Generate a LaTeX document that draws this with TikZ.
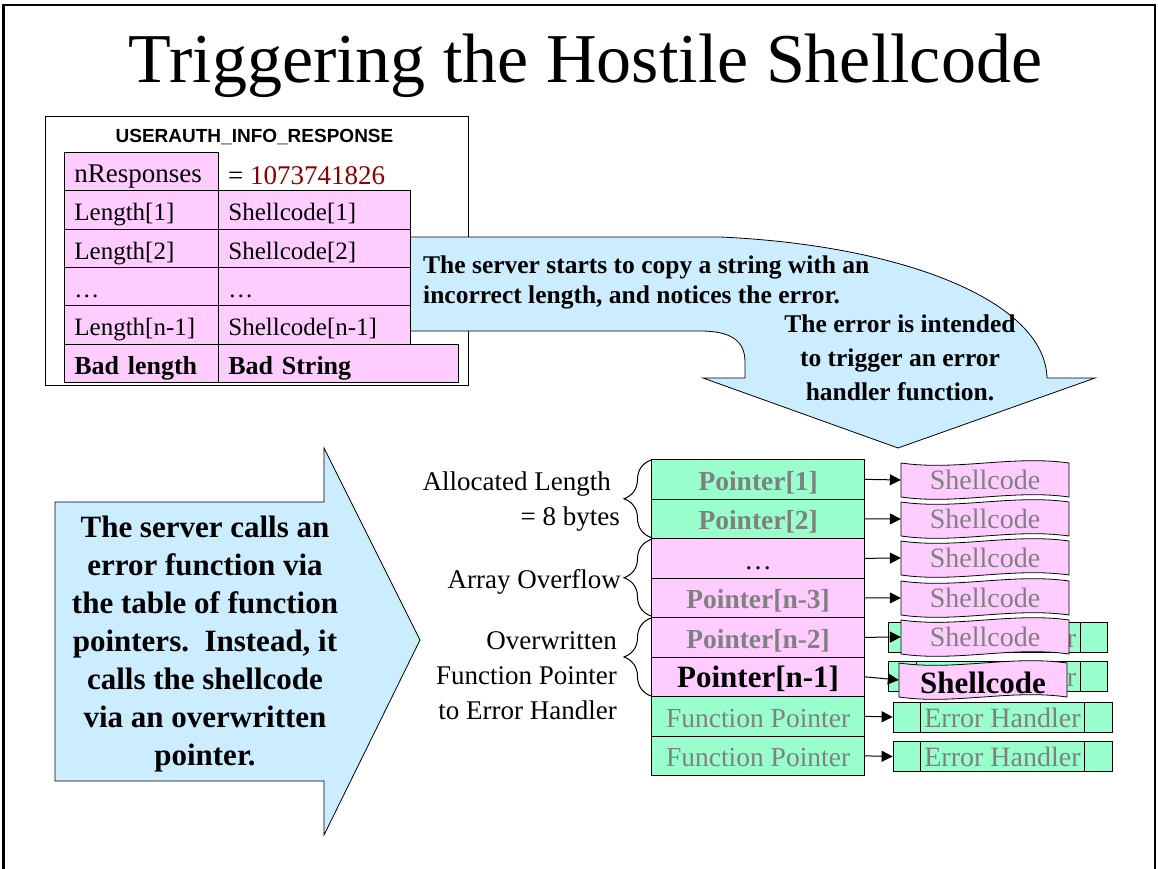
\documentclass[tikz,border=0pt]{standalone}
\usepackage{fontspec}
\setmainfont{Liberation Serif}
\setsansfont{Liberation Sans}
\usetikzlibrary{arrows.meta,decorations.pathreplacing}
\definecolor{cellpink}{RGB}{255,204,255}
\definecolor{cellgreen}{RGB}{153,255,204}
\definecolor{callblue}{RGB}{204,236,255}
\definecolor{darkred}{RGB}{140,0,0}
\definecolor{dimgray}{RGB}{128,128,128}
\newcommand{\pxsize}[2]{\fontsize{#1}{#2}\selectfont}
% wavy tape round a named text node: [options](x,y){name}{text}
\def\tape[#1](#2,#3)#4#5{%
  \draw[fill=cellpink, line width=0.8pt] (#2-84,#3-17) .. controls +(56,8) and +(-56,-8) .. (#2+84,#3-17)
    -- (#2+84,#3+17) .. controls +(-56,-8) and +(56,8) .. (#2-84,#3+17) -- cycle;
  \node[tapetext,#1] (#4) at (#2,#3) {#5};}
\tikzset{
  tblcell/.style={draw, fill=cellpink, line width=0.8pt, anchor=north west, minimum height=38.3pt,
    inner xsep=10pt, inner ysep=0pt, text height=22pt, text depth=0pt, align=left, font=\pxsize{25}{30}},
  ptrcell/.style={draw, line width=1.2pt, anchor=north west, minimum width=213pt, minimum height=39.5pt,
    inner sep=0pt, text height=22pt, text depth=0pt},
  tapetext/.style={minimum width=168pt, minimum height=34pt, inner sep=0pt, text height=18pt,
    text depth=0pt, text=dimgray, font=\pxsize{28}{33}},
  errbox/.style={draw, fill=cellgreen, line width=0.8pt, minimum width=219pt, minimum height=30pt,
    inner sep=0pt, text height=20pt, text depth=0pt, text=dimgray, font=\pxsize{28}{33}},
  ptrarrow/.style={line width=1pt, -{Triangle[length=11pt,width=11pt]}},
  lbl/.style={align=right, inner sep=0pt, font=\pxsize{27}{35}},
  bracket/.style={decorate, decoration={brace, amplitude=27pt}, line width=1pt},
}
\begin{document}
\begin{tikzpicture}[x=1pt, y=-1pt]
	%%%%% START %%%%%
	\useasboundingbox (0,0) rectangle (1158,869);
	\draw[line width=2.5pt] (3.5,869) -- (3.5,5) -- (1155,5) -- (1155,869);
	
	\node[anchor=base, font=\pxsize{70}{80}] (title) at (585.5,83) {Triggering the Hostile Shellcode};
	
	% message layout
	\draw[line width=1pt] (45,117) rectangle (468,385);
	\node[anchor=base, font=\sffamily\bfseries\pxsize{19}{23}] (hdr) at (254.5,143) {USERAUTH\_INFO\_RESPONSE};
	
	% copy callout
	\draw[fill=callblue, line width=0.8pt] (409,237) -- (720,237) .. controls (900,245) and (1045,300) .. (1047,378)
		-- (1095,378) -- (898,448) -- (703,378) -- (745,378) -- (745,362)
		.. controls (745,340) and (730,331) .. (700,331) -- (409,331) -- cycle;
	\node[anchor=north west, align=left, inner sep=0pt, font=\bfseries\pxsize{25.5}{30}] (copytext) at (423,255.5)
		{The server starts to copy a string with an\\incorrect length, and notices the error.};
	\node[anchor=north, align=center, inner sep=0pt, font=\bfseries\pxsize{25.5}{34}] (errtext) at (900,314.5)
		{The error is intended\\to trigger an error\\handler function.};
	
	\node[tblcell, text width=134pt, font=\pxsize{27}{32}] (nresp) at (64,152) {nResponses};
	\node[anchor=base west, inner sep=0pt, font=\pxsize{27}{32}] (count) at (228,185) {= \textcolor{darkred}{1073741826}};
	\node[tblcell, text width=134pt] (len1) at (64,190.3) {Length[1]};
	\node[tblcell, text width=172pt] (sc1) at (218,190.3) {Shellcode[1]};
	\node[tblcell, text width=134pt] (len2) at (64,228.6) {Length[2]};
	\node[tblcell, text width=172pt] (sc2) at (218,228.6) {Shellcode[2]};
	\node[tblcell, text width=134pt] (lendots) at (64,266.9) {\ldots};
	\node[tblcell, text width=172pt] (scdots) at (218,266.9) {\ldots};
	\node[tblcell, text width=134pt] (lenlast) at (64,305.2) {Length[n-1]};
	\node[tblcell, text width=172pt] (sclast) at (218,305.2) {Shellcode[n-1]};
	\node[tblcell, text width=134pt, font=\bfseries\pxsize{26}{30}] (badlen) at (64,343.5) {Bad length};
	\node[tblcell, text width=220pt, font=\bfseries\pxsize{26}{30}] (badstr) at (218,343.5) {Bad String};
	
	% call arrow
	\draw[fill=callblue, line width=0.8pt] (55,502) -- (324,502) -- (324,448) -- (420,640) -- (324,835)
		-- (324,781) -- (55,781) -- cycle;
	\node[anchor=north, align=center, inner sep=0pt, font=\bfseries\pxsize{31}{38}] (calltext) at (205,516)
		{The server calls an\\error function via\\the table of function\\pointers.\ \ Instead, it\\calls the shellcode\\via an overwritten\\pointer.};
	
	% labels and braces
	\node[lbl, anchor=north east] (alloc) at (620,471.6) {Allocated Length\hspace*{9pt}\\= 8 bytes};
	\node[lbl, anchor=base east] (overflow) at (621,588) {Array Overflow};
	\node[lbl, anchor=north east] (overwr) at (617,631.5) {Overwritten\\Function Pointer\\to Error Handler};
	\draw[bracket] (651,537.5) -- (651,460);
	\draw[bracket] (651,616) -- (651,539.5);
	\draw[bracket] (651,696) -- (651,618);
	
	% pointer table
	\node[ptrcell, fill=cellgreen, text=dimgray, font=\bfseries\pxsize{27.5}{33}] (p1) at (651,459) {Pointer[1]};
	\node[ptrcell, fill=cellgreen, text=dimgray, font=\bfseries\pxsize{27.5}{33}] (p2) at (651,498.5) {Pointer[2]};
	\node[ptrcell, fill=cellpink, font=\pxsize{27.5}{33}] (p3) at (651,538) {\ldots};
	\node[ptrcell, fill=cellpink, text=dimgray, font=\bfseries\pxsize{27.5}{33}] (p4) at (651,577.5) {Pointer[n-3]};
	\node[ptrcell, fill=cellpink, text=dimgray, font=\bfseries\pxsize{27.5}{33}] (p5) at (651,617) {Pointer[n-2]};
	\node[ptrcell, fill=cellpink, font=\bfseries\pxsize{31}{36}] (p6) at (651,656.5) {Pointer[n-1]};
	\node[ptrcell, fill=cellgreen, text=dimgray, font=\pxsize{27.5}{33}] (p7) at (651,696) {Function Pointer};
	\node[ptrcell, fill=cellgreen, text=dimgray, font=\pxsize{27.5}{33}] (p8) at (651,735.5) {Function Pointer};
	
	% handlers
	\node[errbox] (e5) at (998,637) {Error Handler};
	\node[errbox] (e6) at (998,676.5) {Error Handler};
	\node[errbox] (e7) at (1002.5,717) {Error Handler};
	\node[errbox] (e8) at (1002.5,756.5) {Error Handler};
	\foreach \e in {e5,e6,e7,e8}{
		\draw[line width=0.8pt] ([xshift=28pt]\e.north west) -- ([xshift=28pt]\e.south west);
		\draw[line width=0.8pt] ([xshift=-28pt]\e.north east) -- ([xshift=-28pt]\e.south east);
	}
	
	% shellcode tapes
	\tape[](985,480){s1}{Shellcode}
	\tape[](985,519){s2}{Shellcode}
	\tape[](985,558){s3}{Shellcode}
	\tape[](985,598){s4}{Shellcode}
	\tape[](985,637){s5}{Shellcode}
	\tape[text=black, text height=26pt, font=\bfseries\pxsize{31}{36}](983,680){s6}{Shellcode}
	
	\foreach \i in {1,...,6}{
		\draw[ptrarrow] (p\i.east) -- (s\i.west);
	}
	\draw[ptrarrow] (p7.east) -- (e7.west);
	\draw[ptrarrow] (p8.east) -- (e8.west);
	%%%%% END %%%%%
\end{tikzpicture}
\end{document}
